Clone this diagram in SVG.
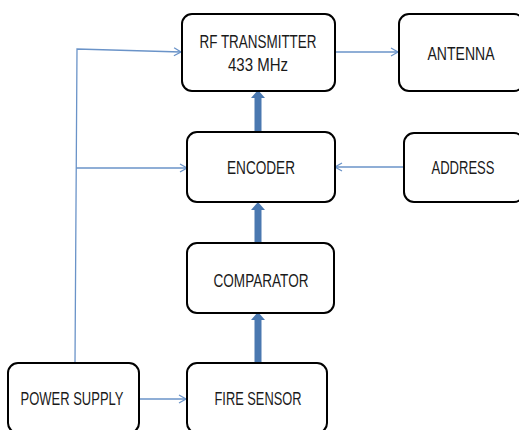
<svg xmlns="http://www.w3.org/2000/svg" width="519" height="430" viewBox="0 0 519 430">
<style>
.box{fill:#fff;stroke:#000;stroke-width:2}
.t{font-family:"Liberation Sans",Arial,sans-serif;font-size:17.5px;fill:#1a1a1a;text-anchor:middle}
.thin{stroke:#6a93c8;stroke-width:1.3;fill:none}
.thick{fill:#4a78b0}
</style>
<defs>
<marker id="ah" markerWidth="10" markerHeight="10" refX="8" refY="5" orient="auto" markerUnits="userSpaceOnUse">
<path d="M1,1 L8,5 L1,9" fill="none" stroke="#6a93c8" stroke-width="1.3"/>
</marker>
</defs>
<rect width="519" height="430" fill="#fff"/>
<g id="connectors">
<polyline class="thin" points="75,363 77,49 181,52" marker-end="url(#ah)"/>
<line class="thin" x1="76" y1="168" x2="187" y2="168" marker-end="url(#ah)"/>
<line class="thin" x1="335" y1="52" x2="398" y2="52" marker-end="url(#ah)"/>
<line class="thin" x1="404" y1="167" x2="335" y2="167" marker-end="url(#ah)"/>
<line class="thin" x1="139" y1="399" x2="186" y2="399" marker-end="url(#ah)"/>
<path class="thick" d="M254.5,363 V320 H251 L258,312 L265,320 H261.5 V363 Z"/>
<path class="thick" d="M254.5,243 V210 H251 L258,202 L265,210 H261.5 V243 Z"/>
<path class="thick" d="M254.5,132 V98 H251 L258,90 L265,98 H261.5 V132 Z"/>
</g>
<g id="rf">
<rect class="box" x="182" y="14" width="153" height="77" rx="10"/>
<text class="t" x="258" y="48" textLength="117" lengthAdjust="spacingAndGlyphs">RF TRANSMITTER</text>
<text class="t" x="258" y="71" textLength="60" lengthAdjust="spacingAndGlyphs">433 MHz</text>
</g>
<g id="antenna">
<rect class="box" x="399" y="14" width="125" height="77" rx="10"/>
<text class="t" x="461" y="60" textLength="67" lengthAdjust="spacingAndGlyphs">ANTENNA</text>
</g>
<g id="encoder">
<rect class="box" x="187" y="132" width="148" height="70" rx="10"/>
<text class="t" x="261" y="174" textLength="68" lengthAdjust="spacingAndGlyphs">ENCODER</text>
</g>
<g id="address">
<rect class="box" x="404" y="133" width="120" height="69" rx="10"/>
<text class="t" x="463" y="174" textLength="63" lengthAdjust="spacingAndGlyphs">ADDRESS</text>
</g>
<g id="comparator">
<rect class="box" x="187" y="243" width="147" height="70" rx="10"/>
<text class="t" x="261" y="287" textLength="95" lengthAdjust="spacingAndGlyphs">COMPARATOR</text>
</g>
<g id="firesensor">
<rect class="box" x="187" y="363" width="140" height="70" rx="10"/>
<text class="t" x="258" y="405" textLength="87" lengthAdjust="spacingAndGlyphs">FIRE SENSOR</text>
</g>
<g id="powersupply">
<rect class="box" x="8" y="363" width="131" height="70" rx="10"/>
<text class="t" x="72" y="405" textLength="103" lengthAdjust="spacingAndGlyphs">POWER SUPPLY</text>
</g>
</svg>
